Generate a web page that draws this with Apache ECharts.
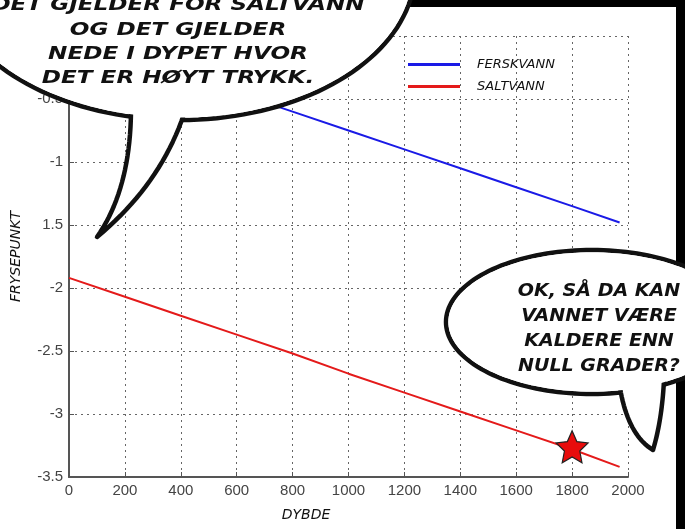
<!DOCTYPE html>
<html>
<head>
<meta charset="utf-8">
<script src="https://cdn.jsdelivr.net/npm/echarts@6/dist/echarts.min.js"></script>
<style>
  html,body{margin:0;padding:0;background:#fff;}
  #frysepunkt{width:685px;height:529px;}
</style>
</head>
<body>
<div id="frysepunkt"></div>
<script>
  // data lest av bildet
  var dybde = [0, 200, 400, 600, 800, 1000, 1200, 1400, 1600, 1800, 1970];
  var ferskvann = [0, -0.15, -0.30, -0.45, -0.60, -0.75, -0.90, -1.05, -1.20, -1.35, -1.48];
  var saltvann = [-1.92, -2.07, -2.22, -2.37, -2.52, -2.68, -2.83, -2.98, -3.13, -3.28, -3.42];
  var stjerne = [1800, -3.26];
  var yTicks = ['-3.5', '-3', '-2.5', '-2', '1.5', '-1', '-0.5', '0'];
  var xTicks = ['0', '200', '400', '600', '800', '1000', '1200', '1400', '1600', '1800', '2000'];
  var bobleVenstre = ['DET GJELDER FOR SALTVANN', 'OG DET GJELDER', 'NEDE I DYPET HVOR', 'DET ER HØYT TRYKK.'];
  var bobleHoyre = ['OK, SÅ DA KAN', 'VANNET VÆRE', 'KALDERE ENN', 'NULL GRADER?'];

  var comicFont = 'DejaVu Sans';

  function ellipsePts(cx, cy, rx, ry) {
    var p = [];
    for (var i = 0; i < 160; i++) {
      var a = i / 160 * Math.PI * 2;
      p.push([cx + rx * Math.cos(a), cy + ry * Math.sin(a)]);
    }
    return p;
  }
  function quadPts(p0, c, p1) {
    var p = [];
    for (var i = 0; i <= 20; i++) {
      var t = i / 20, u = 1 - t;
      p.push([u * u * p0[0] + 2 * u * t * c[0] + t * t * p1[0], u * u * p0[1] + 2 * u * t * c[1] + t * t * p1[1]]);
    }
    return p;
  }
  // snakkeboble: ellipse + hale + tekst
  function boble(cx, cy, rx, ry, a, c1, tip, c2, b, lines, tx, ty, lh, sx) {
    var hale = quadPts(a, c1, tip).concat(quadPts(tip, c2, b).slice(1));
    var els = [
      {type: 'polygon', z: 100, shape: {points: ellipsePts(cx, cy, rx, ry)}, style: {fill: '#fff', stroke: '#111', lineWidth: 4.5}},
      {type: 'polygon', z: 101, shape: {points: hale}, style: {fill: '#fff'}},
      {type: 'polyline', z: 102, shape: {points: hale}, style: {stroke: '#111', lineWidth: 4.5, fill: null, lineJoin: 'round'}},
      {type: 'polygon', z: 103, shape: {points: ellipsePts(cx, cy, rx - 2.4, ry - 2.4)}, style: {fill: '#fff'}}
    ];
    lines.forEach(function (t, i) {
      els.push({
        type: 'text', z: 104, x: tx, y: ty + i * lh, scaleX: sx,
        style: {text: t, fill: '#111', font: 'italic bold 17px "' + comicFont + '"', align: 'center', verticalAlign: 'middle'}
      });
    });
    return els;
  }

  var chart = echarts.init(document.getElementById('frysepunkt'));

  var graphics = [
    {type: 'rect', z: 50, shape: {x: 0, y: 0, width: 685, height: 7}, style: {fill: '#000'}},
    {type: 'rect', z: 50, shape: {x: 676, y: 0, width: 9, height: 529}, style: {fill: '#000'}},
    {type: 'text', z: 20, x: 306, y: 515, style: {text: 'DYBDE', fill: '#111', font: 'italic 14px "' + comicFont + '"', align: 'center', verticalAlign: 'middle'}}
  ];
  graphics = graphics.concat(
    boble(180, -30, 235, 150, [131, 112], [130, 190], [97, 237], [160, 185], [184, 114], bobleVenstre, 178, 6, 24.3, 1.36),
    boble(592, 322, 146, 72, [620, 388], [628, 435], [653, 450], [662, 420], [664, 380], bobleHoyre, 599, 291.5, 25, 1.12)
  );

  var option = {
    animation: false,
    backgroundColor: '#fff',
    grid: {left: 69, top: 36, right: 57, bottom: 52},
    legend: {
      orient: 'vertical', left: 403, top: 53, itemWidth: 52, itemHeight: 3, itemGap: 9,
      icon: 'rect',
      data: ['FERSKVANN', 'SALTVANN'],
      textStyle: {fontFamily: comicFont, fontStyle: 'italic', fontSize: 13, color: '#111', padding: [0, 0, 0, 12]}
    },
    xAxis: {
      type: 'value', min: 0, max: 2000, interval: 200,
      axisLine: {onZero: false, lineStyle: {color: '#555', width: 2}},
      axisTick: {inside: true, length: 5, lineStyle: {color: '#555'}},
      axisLabel: {color: '#444', fontFamily: 'Liberation Sans', fontSize: 15, margin: 6,
        formatter: function (v) { return xTicks[Math.round(v / 200)]; }},
      splitLine: {show: true, lineStyle: {color: '#666', type: [2, 4], width: 1}}
    },
    yAxis: {
      type: 'value', min: -3.5, max: 0, interval: 0.5,
      name: 'FRYSEPUNKT', nameLocation: 'middle', nameGap: 46,
      nameTextStyle: {fontFamily: comicFont, fontStyle: 'italic', fontSize: 14, color: '#111'},
      axisLine: {onZero: false, lineStyle: {color: '#555', width: 2}},
      axisTick: {inside: true, length: 5, lineStyle: {color: '#555'}},
      axisLabel: {color: '#444', fontFamily: 'Liberation Sans', fontSize: 15, margin: 6,
        formatter: function (v) { return yTicks[Math.round((v + 3.5) / 0.5)]; }},
      splitLine: {show: true, lineStyle: {color: '#666', type: [2, 4], width: 1}}
    },
    series: [
      {
        name: 'FERSKVANN', type: 'line', showSymbol: false, color: '#1a1ae6',
        lineStyle: {width: 2},
        data: dybde.map(function (d, i) { return [d, ferskvann[i]]; })
      },
      {
        name: 'SALTVANN', type: 'line', showSymbol: false, color: '#e41a1a',
        lineStyle: {width: 2},
        data: dybde.map(function (d, i) { return [d, saltvann[i]]; })
      },
      {
        type: 'scatter', z: 5,
        symbol: 'path://M50,0 L64.1,30.6 L97.6,34.5 L72.8,57.4 L79.4,90.5 L50,74 L20.6,90.5 L27.2,57.4 L2.4,34.5 L35.9,30.6 Z',
        symbolSize: 32,
        itemStyle: {color: '#e80c0c', opacity: 1, borderColor: '#222', borderWidth: 1.2},
        data: [stjerne]
      }
    ],
    graphic: graphics
  };

  chart.setOption(option);
</script>
</body>
</html>
